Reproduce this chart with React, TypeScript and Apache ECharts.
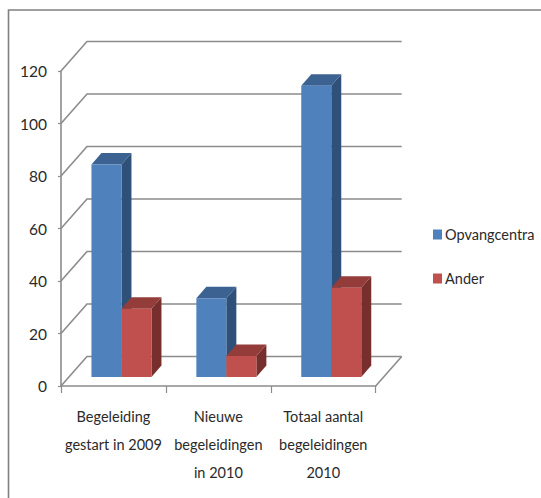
import React, { useEffect, useRef } from "react";
import * as echarts from "echarts";

const categories = ["Begeleiding\ngestart in 2009", "Nieuwe\nbegeleidingen\nin 2010", "Totaal aantal\nbegeleidingen\n2010"];
const opvangcentra = [81, 30, 111];
const ander = [26, 8, 34];
const gridValues = [0, 20, 40, 60, 80, 100, 120];

const FONT = "Lato, 'Noto Sans', sans-serif";
const TEXT = "#2a2a2a";
const LINE = "#8c8c8c";
const WALL_DX = 26;
const WALL_DY = 29.5;
const FLOOR_DX = 8;
const FLOOR_DY = 9;
const DEPTH_DX = 10;
const DEPTH_DY = 11.5;
const BAR_W = 30;

function wallItem(params: any, api: any) {
  const cs = params.coordSys;
  const v = api.value(1);
  const y = api.coord([0, v])[1];
  const x0 = cs.x;
  const x1 = cs.x + cs.width;
  const style = { stroke: LINE, lineWidth: 1.6, fill: "none" };
  const children: any[] = [
    {
      type: "polyline",
      shape: { points: [[x0, y], [x0 + WALL_DX, y - WALL_DY], [x1 + WALL_DX, y - WALL_DY]] },
      style,
    },
  ];
  if (v === 0) {
    children.push({
      type: "line",
      shape: { x1, y1: y, x2: x1 + WALL_DX, y2: y - WALL_DY },
      style,
    });
  }
  return { type: "group", children };
}

function barItem(side: number, front: string, top: string, right: string) {
  return (_params: any, api: any) => {
    const c = api.coord([api.value(0), api.value(1)]);
    const base = api.coord([api.value(0), 0]);
    const x = c[0] + FLOOR_DX + (side < 0 ? -BAR_W : 0);
    const yT = c[1] - FLOOR_DY;
    const yB = base[1] - FLOOR_DY;
    const xR = x + BAR_W;
    return {
      type: "group",
      children: [
        {
          type: "polygon",
          shape: { points: [[xR, yT], [xR + DEPTH_DX, yT - DEPTH_DY], [xR + DEPTH_DX, yB - DEPTH_DY], [xR, yB]] },
          style: { fill: right },
        },
        {
          type: "polygon",
          shape: { points: [[x, yT], [x + DEPTH_DX, yT - DEPTH_DY], [xR + DEPTH_DX, yT - DEPTH_DY], [xR, yT]] },
          style: { fill: top },
        },
        { type: "rect", shape: { x, y: yT, width: BAR_W, height: yB - yT }, style: { fill: front } },
      ],
    };
  };
}

export default function App() {
  const ref = useRef<HTMLDivElement>(null);
  useEffect(() => {
    const chart = echarts.init(ref.current!, undefined, { renderer: "svg" });
    chart.setOption({
      animation: false,
      backgroundColor: "#ffffff",
      grid: { left: 61, top: 71, width: 314.7, height: 315 },
      legend: {
        data: ["Opvangcentra", "Ander"],
        orient: "vertical",
        left: 428,
        top: 222,
        itemWidth: 9,
        itemHeight: 10,
        itemGap: 29,
        icon: "rect",
        textStyle: { fontFamily: FONT, fontSize: 14.5, color: TEXT, padding: [0, 0, 0, -2] },
      },
      xAxis: {
        type: "category",
        data: categories,
        axisLine: { lineStyle: { color: LINE, width: 1.6 } },
        axisTick: { show: true, length: 7, lineStyle: { color: LINE, width: 1.2 } },
        axisLabel: {
          fontFamily: FONT,
          fontSize: 14.5,
          color: TEXT,
          lineHeight: 28,
          margin: 16,
          interval: 0,
        },
      },
      yAxis: {
        type: "value",
        min: 0,
        max: 120,
        interval: 20,
        splitLine: { show: false },
        axisLine: { show: true, lineStyle: { color: LINE, width: 1.6 } },
        axisTick: { show: true, length: 3, lineStyle: { color: LINE, width: 1.2 } },
        axisLabel: { fontFamily: FONT, fontSize: 15.5, color: TEXT, margin: 14 },
      },
      graphic: [
        {
          type: "polyline",
          shape: { points: [[8.5, 498], [8.5, 10], [541, 10]] },
          style: { stroke: "#808080", lineWidth: 1.6, fill: "none" },
          silent: true,
        },
      ],
      series: [
        {
          type: "custom",
          name: "walls",
          clip: false,
          z: 1,
          renderItem: wallItem,
          data: gridValues.map((v) => [0, v]),
          silent: true,
        },
        {
          type: "custom",
          name: "Opvangcentra",
          clip: false,
          z: 2,
          itemStyle: { color: "#4F81BD" },
          renderItem: barItem(-1, "#4F81BD", "#3B6291", "#2F5078"),
          data: opvangcentra.map((v, i) => [i, v]),
        },
        {
          type: "custom",
          name: "Ander",
          clip: false,
          z: 3,
          itemStyle: { color: "#C0504D" },
          renderItem: barItem(1, "#C0504D", "#943C3A", "#772F2D"),
          data: ander.map((v, i) => [i, v]),
        },
      ],
    });
    return () => chart.dispose();
  }, []);
  return <div ref={ref} style={{ position: "absolute", left: 0, top: 0, width: 541, height: 498 }} />;
}
